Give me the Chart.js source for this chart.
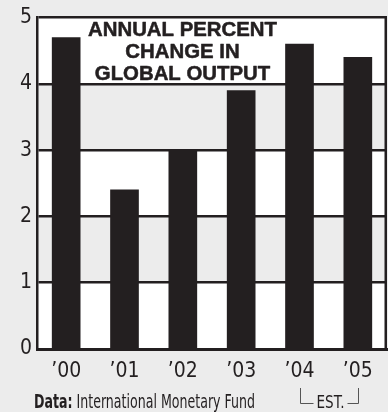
<!DOCTYPE html>
<html>
<head>
<meta charset="utf-8">
<script src="https://cdn.jsdelivr.net/npm/chart.js@4.4.1/dist/chart.umd.min.js"></script>
<style>
  html, body { margin: 0; padding: 0; background: #ececec; overflow: hidden; }
  #wrap { width: 388px; height: 412px; }
</style>
</head>
<body>
<div id="wrap"><canvas id="c" width="388" height="412"></canvas></div>
<script>
// Annual percent change in global output, 2000-2005 (2004-05 estimated)
const years = ["\u201900", "\u201901", "\u201902", "\u201903", "\u201904", "\u201905"];
const growth = [4.7, 2.4, 3.0, 3.9, 4.6, 4.4];
const yTicks = [0, 1, 2, 3, 4, 5];
const titleLines = ["ANNUAL PERCENT", "CHANGE IN", "GLOBAL OUTPUT"];
const sourceLabel = "Data:";
const sourceName = " International Monetary Fund";
const estLabel = "EST.";

const INK = "#231f20";
const TINT = "#ececec";
const NARROW = '"Liberation Sans Narrow", "DejaVu Sans Condensed", "Liberation Sans", sans-serif';

// draw text squeezed horizontally by factor k (left-aligned at x)
function squeezeText(ctx, text, x, y, k, heavy) {
  ctx.save();
  ctx.translate(x, y);
  ctx.scale(k, 1);
  if (heavy) {
    ctx.lineWidth = heavy;
    ctx.lineJoin = "round";
    ctx.strokeStyle = ctx.fillStyle;
    ctx.strokeText(text, 0, 0);
  }
  ctx.fillText(text, 0, 0);
  ctx.restore();
  return ctx.measureText(text).width * k;
}

// Alternating tint bands behind the bars, plus the outer background
const bandPlugin = {
  id: "bands",
  beforeDraw(chart) {
    const { ctx, chartArea: a, scales: { y } } = chart;
    ctx.save();
    ctx.fillStyle = TINT;
    ctx.fillRect(0, 0, chart.width, chart.height);
    for (let i = 0; i < yTicks.length - 1; i++) {
      const top = y.getPixelForValue(yTicks[i + 1]);
      const bot = y.getPixelForValue(yTicks[i]);
      ctx.fillStyle = i % 2 === 0 ? "#ffffff" : TINT;
      ctx.fillRect(a.left, top, a.right - a.left, bot - top);
    }
    ctx.restore();
  }
};

// Frame on the right, the boxed title and the footer line
const decorPlugin = {
  id: "decor",
  afterDraw(chart) {
    const { ctx, chartArea: a } = chart;
    ctx.save();
    ctx.strokeStyle = INK;
    ctx.lineWidth = 2.5;
    ctx.beginPath();
    ctx.moveTo(a.right - 1.25, a.top - 1.25);
    ctx.lineTo(a.right - 1.25, a.bottom);
    ctx.stroke();

    // title: heavy caps centred in the top band
    ctx.fillStyle = INK;
    ctx.font = 'bold 19.5px "Liberation Sans", Arial, sans-serif';
    ctx.textAlign = "left";
    ctx.textBaseline = "alphabetic";
    const cx = 182.5;
    const k = 189 / ctx.measureText(titleLines[0]).width;
    titleLines.forEach((t, i) => {
      const w = ctx.measureText(t).width * k;
      squeezeText(ctx, t, cx - w / 2, 35.5 + i * 22, k, 0.5);
    });

    // source
    ctx.font = "bold 19px " + NARROW;
    const w1 = ctx.measureText(sourceLabel).width;
    ctx.font = "19px " + NARROW;
    const w2 = ctx.measureText(sourceName).width;
    const ks = 221 / (w1 + w2);
    ctx.font = "bold 19px " + NARROW;
    squeezeText(ctx, sourceLabel, 34, 408, ks);
    ctx.font = "19px " + NARROW;
    squeezeText(ctx, sourceName, 34 + w1 * ks, 408, ks);

    // estimate bracket under the last two years
    const x1 = 300;
    const x2 = 358;
    const mid = 330.5;
    ctx.font = "17px " + NARROW;
    const ke = 28 / ctx.measureText(estLabel).width;
    const tw = squeezeText(ctx, estLabel, mid - 14, 408, Math.min(1, ke));
    ctx.strokeStyle = "#555";
    ctx.lineWidth = 1;
    ctx.beginPath();
    ctx.moveTo(x1 + 0.5, 388);
    ctx.lineTo(x1 + 0.5, 403.5);
    ctx.lineTo(mid - tw / 2 - 3, 403.5);
    ctx.moveTo(mid + tw / 2 + 3, 403.5);
    ctx.lineTo(x2 + 0.5, 403.5);
    ctx.lineTo(x2 + 0.5, 388);
    ctx.stroke();
    ctx.restore();
  }
};

new Chart(document.getElementById("c"), {
  type: "bar",
  data: {
    labels: years,
    datasets: [{
      data: growth,
      backgroundColor: INK,
      borderWidth: 0,
      barThickness: 28
    }]
  },
  options: {
    responsive: false,
    animation: false,
    devicePixelRatio: 1,
    layout: { padding: { top: 17, right: 1, bottom: 33, left: 1 } },
    plugins: { legend: { display: false }, tooltip: { enabled: false } },
    scales: {
      x: {
        grid: { display: false, drawTicks: false },
        border: { display: true, color: INK, width: 3 },
        ticks: {
          color: INK,
          font: { family: NARROW, size: 21 },
          padding: 10
        },
        afterFit(s) { s.height = 30; }
      },
      y: {
        min: 0,
        max: 5,
        afterBuildTicks(s) { s.ticks = yTicks.map(v => ({ value: v })); },
        grid: { color: INK, lineWidth: 2.5, drawTicks: false },
        border: { display: true, color: INK, width: 2.5 },
        ticks: {
          color: INK,
          font: { family: NARROW, size: 21 },
          padding: 5
        },
        afterFit(s) { s.width = 36; }
      }
    }
  },
  plugins: [bandPlugin, decorPlugin]
});
</script>
</body>
</html>
